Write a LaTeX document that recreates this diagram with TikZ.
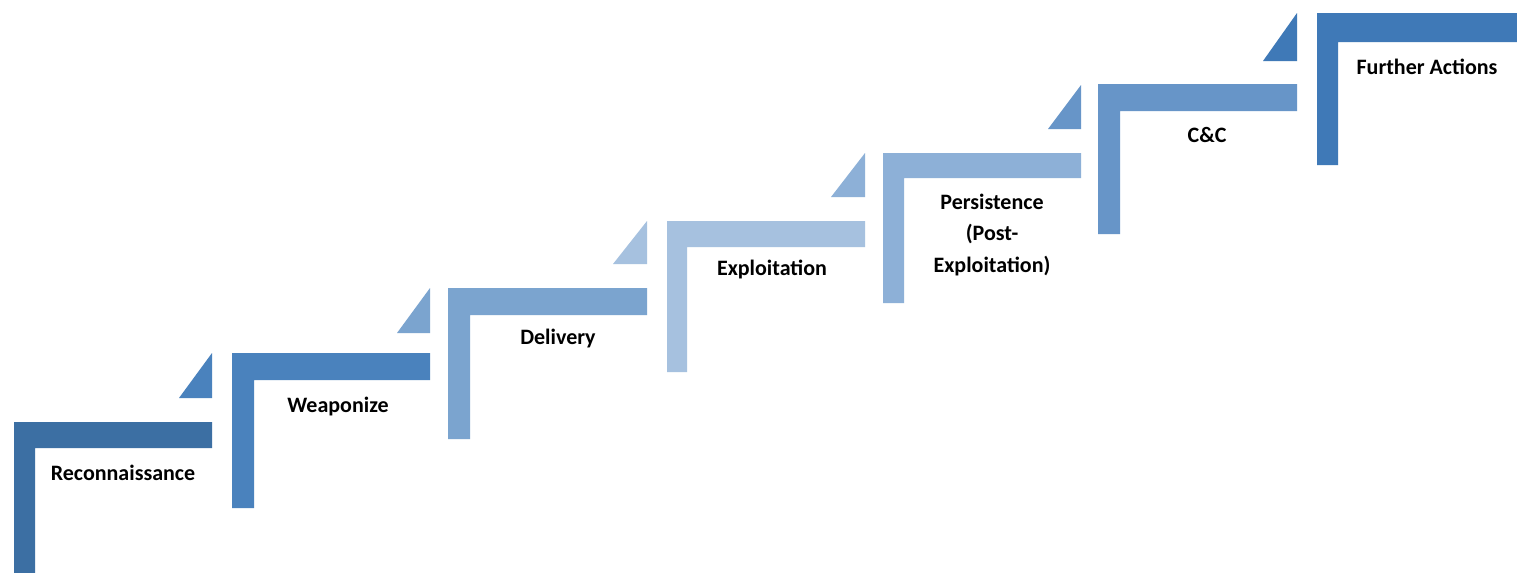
\documentclass[tikz,border=0pt]{standalone}
\usepackage{fontspec}
\setmainfont{Carlito}
\definecolor{stepA}{HTML}{3C6FA3}
\definecolor{stepB}{HTML}{4A82BD}
\definecolor{stepC}{HTML}{7BA4CF}
\definecolor{stepD}{HTML}{A6C1DF}
\definecolor{stepE}{HTML}{8DB0D7}
\definecolor{stepF}{HTML}{6795C8}
\definecolor{stepG}{HTML}{3F79B7}
\tikzset{every picture/.style={line width=0.75pt}}
\tikzset{steplabel/.style={inner sep=0.75pt,text=black,font=\fontsize{16.5}{23.5}\selectfont\bfseries}}

\begin{document}
\begin{tikzpicture}[
            x=0.75pt,
            y=0.75pt,
            yscale=-1,
            xscale=1,
            line width=0.75pt
        ]
            \useasboundingbox (0,0) rectangle (1517,572);
            \fill[white] (0,0) rectangle (1517,572);

            % steps
            \fill[stepA] (14,422) -- (212,422) -- (212,448) -- (35,448) -- (35,573) -- (14,573) -- cycle ;
            \fill[stepB] (232,353) -- (430,353) -- (430,380) -- (254,380) -- (254,508) -- (232,508) -- cycle ;
            \fill[stepC] (448,288) -- (647,288) -- (647,315) -- (470,315) -- (470,439) -- (448,439) -- cycle ;
            \fill[stepD] (667,221) -- (865,221) -- (865,247) -- (687,247) -- (687,372) -- (667,372) -- cycle ;
            \fill[stepE] (883,153) -- (1081,153) -- (1081,178) -- (904,178) -- (904,303) -- (883,303) -- cycle ;
            \fill[stepF] (1098,84) -- (1297,84) -- (1297,111) -- (1120,111) -- (1120,234) -- (1098,234) -- cycle ;
            \fill[stepG] (1317,13) -- (1517,13) -- (1517,42) -- (1338,42) -- (1338,165) -- (1317,165) -- cycle ;

            % corner triangles
            \fill[stepB] (212,353) -- (212,398) -- (179,398) -- cycle ;
            \fill[stepC] (430,288) -- (430,333) -- (397,333) -- cycle ;
            \fill[stepD] (647,221) -- (647,264) -- (613,264) -- cycle ;
            \fill[stepE] (865,153) -- (865,197) -- (831,197) -- cycle ;
            \fill[stepF] (1081,85) -- (1081,129) -- (1048,129) -- cycle ;
            \fill[stepG] (1297,13) -- (1297,61) -- (1263,61) -- cycle ;

            \draw (123,480) node (recon) [anchor=base][steplabel] {Reconnaissance};
            \draw (338,412) node (weapon) [anchor=base][steplabel] {Weaponize};
            \draw (558,344) node (deliv) [anchor=base][steplabel] {Delivery};
            \draw (772,275) node (exploit) [anchor=base][steplabel] {Exploitation};
            \draw (992,235) node (persist) [align=center][steplabel] {Persistence\\(Post-\\Exploitation)};
            \draw (1207,142) node (cc) [anchor=base][steplabel] {C\&C};
            \draw (1427,74) node (further) [anchor=base][steplabel] {Further Actions};
        \end{tikzpicture}
\end{document}
